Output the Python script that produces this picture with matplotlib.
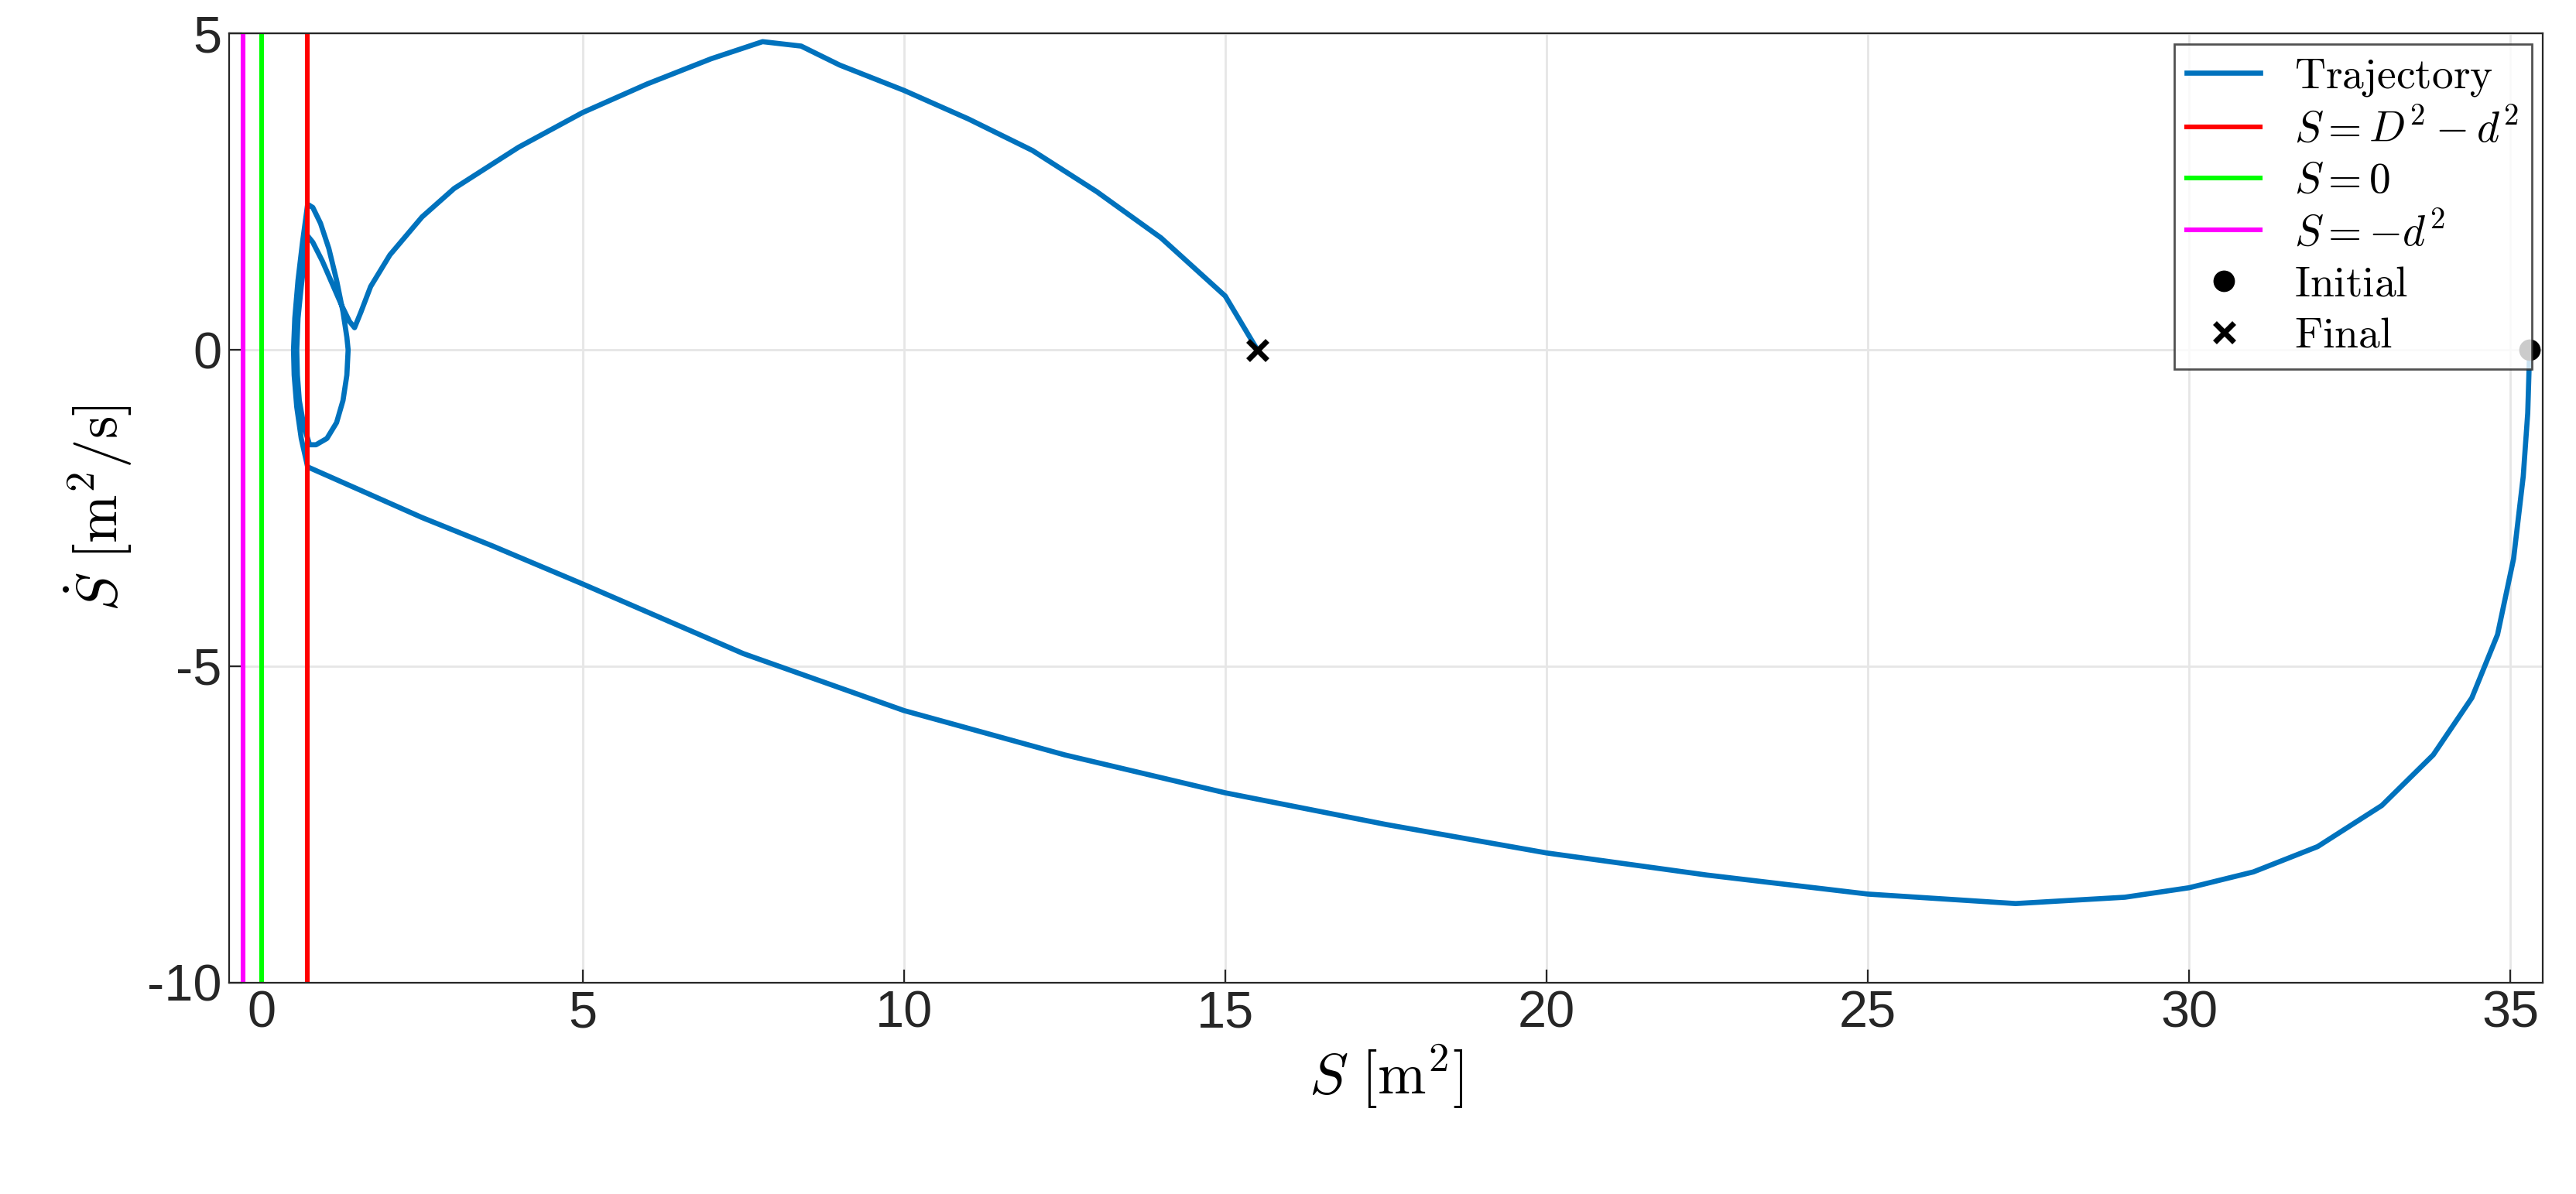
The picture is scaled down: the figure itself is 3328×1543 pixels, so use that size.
import matplotlib
matplotlib.use("Agg")
from matplotlib import pyplot as plt

plt.rcParams['mathtext.fontset'] = 'cm'
plt.rcParams['font.family'] = ['Liberation Sans', 'DejaVu Sans']
plt.rcParams['axes.unicode_minus'] = False

# trajectory (S, S_dot)
s_vals = [35.3, 35.27, 35.2, 35.05, 34.8, 34.4, 33.8, 33.0, 32.0, 31.0, 30.0, 29.0, 27.3,
          25.0, 22.5, 20.0, 17.5, 15.0, 12.5, 10.0, 7.5, 5.0, 3.6, 2.5, 1.5, 0.72,
          0.62, 0.55, 0.51, 0.5, 0.52, 0.57, 0.64, 0.72, 0.8, 0.92, 1.05, 1.17, 1.27, 1.33, 1.35,
          1.33, 1.27, 1.17, 1.02, 0.85, 0.75,
          0.66, 0.59, 0.56, 0.55, 0.57, 0.62, 0.68, 0.72, 0.8, 0.95, 1.1, 1.25, 1.37, 1.45,
          1.55, 1.7, 2.0, 2.5, 3.0, 4.0, 5.0, 6.0, 7.0, 7.8, 8.4, 9.0, 10.0, 11.0, 12.0,
          13.0, 14.0, 15.0, 15.5]
sdot_vals = [0.0, -1.0, -2.0, -3.3, -4.5, -5.5, -6.4, -7.2, -7.85, -8.25, -8.5, -8.65, -8.75,
             -8.6, -8.3, -7.95, -7.5, -7.0, -6.4, -5.7, -4.8, -3.7, -3.1, -2.65, -2.2, -1.85,
             -1.4, -0.9, -0.4, 0.0, 0.5, 1.1, 1.7, 2.3, 2.25, 2.0, 1.6, 1.1, 0.6, 0.2, 0.0,
             -0.4, -0.8, -1.15, -1.4, -1.5, -1.5,
             -1.2, -0.8, -0.4, 0.0, 0.5, 1.0, 1.5, 1.8, 1.7, 1.4, 1.05, 0.7, 0.45, 0.35,
             0.6, 1.0, 1.5, 2.1, 2.55, 3.2, 3.75, 4.2, 4.6, 4.87, 4.8, 4.5, 4.1, 3.65, 3.15,
             2.5, 1.77, 0.85, 0.0]

s_red = 0.72
s_green = 0.0
s_magenta = -0.28
initial = (35.3, 0.0)
final = (15.5, 0.0)

fig, ax = plt.subplots(figsize=(16.64, 7.715), dpi=200)
fig.subplots_adjust(left=0.089, right=0.987, top=0.972, bottom=0.177)

ax.plot(s_vals, sdot_vals, color='#0072BD', lw=2.4, label=r'$\mathrm{Trajectory}$')
ax.axvline(s_red, color='#FF0000', lw=2.2, label=r'$S = D^2 - d^2$')
ax.axvline(s_green, color='#00FF00', lw=2.2, label=r'$S = 0$')
ax.axvline(s_magenta, color='#FF00FF', lw=2.2, label=r'$S = -d^2$')
ax.plot(*initial, 'o', color='k', ms=9, linestyle='none', label=r'$\mathrm{Initial}$')
ax.plot(*final, 'x', color='k', ms=9, mew=2.5, linestyle='none', label=r'$\mathrm{Final}$')

ax.set_xlim(-0.5, 35.5)
ax.set_ylim(-10, 5)
ax.set_xticks([0, 5, 10, 15, 20, 25, 30, 35])
ax.set_yticks([-10, -5, 0, 5])
ax.tick_params(direction='in', labelsize=24, length=6, colors='#262626')
ax.grid(True, color='#e6e6e6', lw=1)
for sp in ax.spines.values():
    sp.set_color('#262626')

ax.set_xlabel(r'$S\ [\mathrm{m}^2]$', fontsize=27, labelpad=2)
ax.set_ylabel(r'$\dot{S}\ [\mathrm{m}^2/\mathrm{s}]$', fontsize=27, labelpad=6)

leg = ax.legend(loc='upper right', fontsize=20, fancybox=False, edgecolor='#262626',
                borderpad=0.3, handlelength=1.7, labelspacing=0.25, borderaxespad=0.25)
leg.get_frame().set_linewidth(1)

fig.savefig('out.png')
